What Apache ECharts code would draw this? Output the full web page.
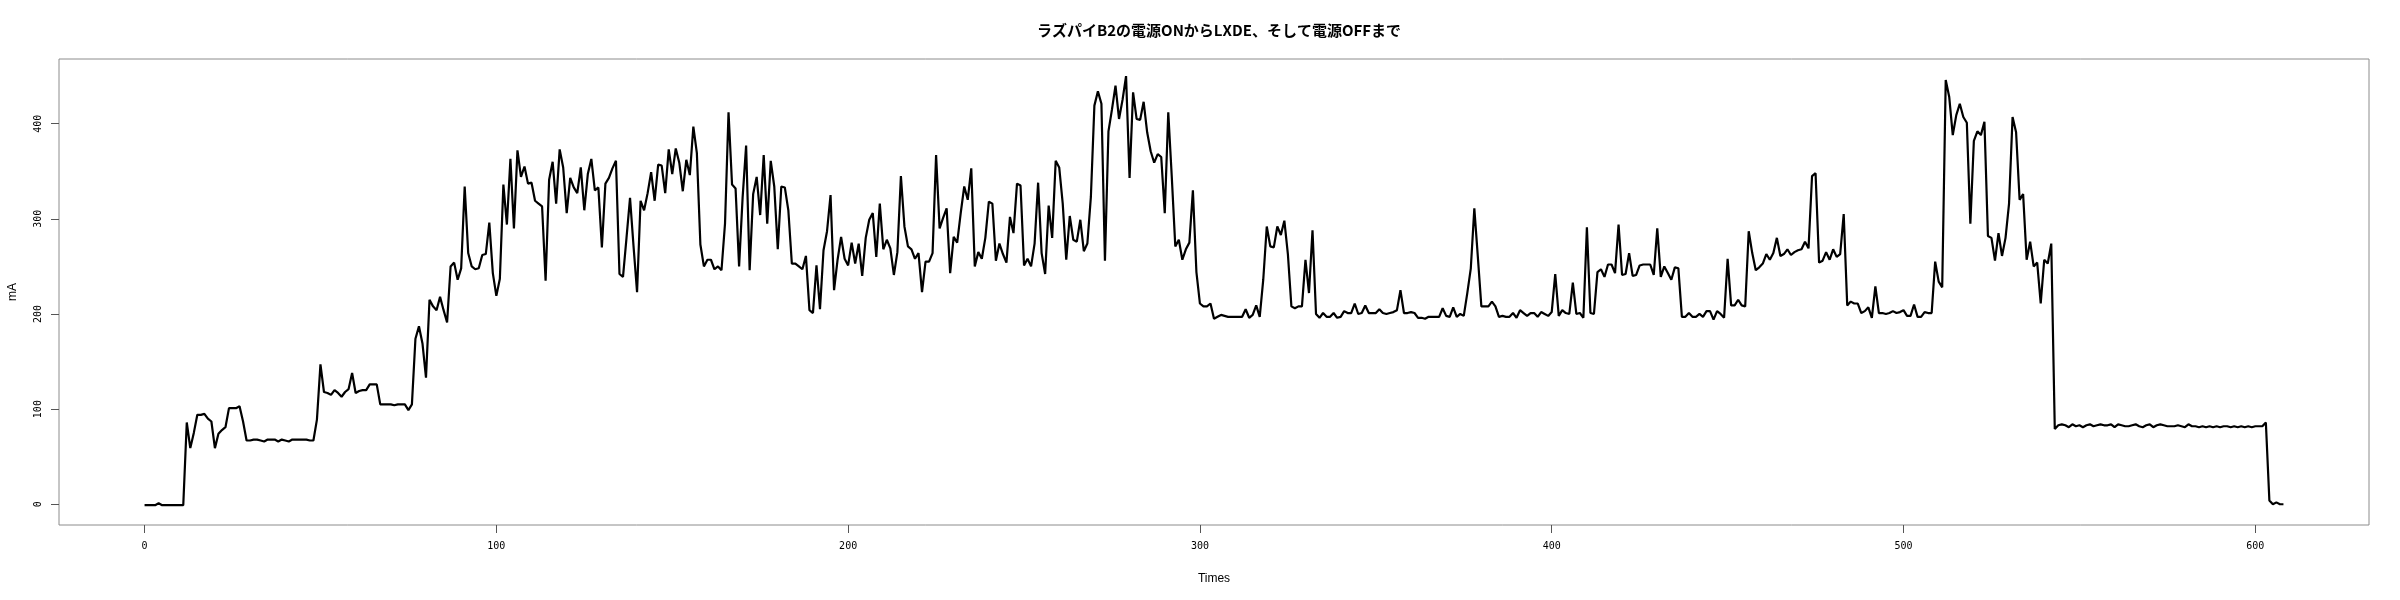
<!DOCTYPE html>
<html>
<head>
<meta charset="utf-8">
<script src="https://cdn.jsdelivr.net/npm/echarts@6/dist/echarts.min.js"></script>
<style>
html,body{margin:0;padding:0;background:#fff;}
#chart{width:2400px;height:600px;}
</style>
</head>
<body>
<div id="chart"></div>
<script>
// mA readings, sample index 0..608
const mA_000_052 = [-1,-1,-1,-1,1,-1,-1,-1,-1,-1,-1,-1,86,59,75,94,94,95,90,87,59,74,78,81,101,101,101,103,87,67,67,68,68,67,66,68,68,68,66,68,67,66,68,68,68,68,68,67,67,89,147,118,117];
const mA_053_109 = [115,120,117,113,118,121,138,117,119,120,120,126,126,126,105,105,105,105,104,105,105,105,99,105,174,187,169,133,215,208,204,218,204,191,250,254,236,248,334,264,250,247,248,262,263,296,243,219,237,336,294,363,290,372,344,355,337];
const mA_110_166 = [338,319,316,313,235,341,360,316,373,354,306,343,333,327,354,309,347,363,330,333,270,337,343,353,361,242,239,280,322,271,223,319,309,327,349,319,357,356,327,373,347,374,359,329,362,346,397,369,273,250,257,257,247,250,246,295,412];
const mA_167_223 = [336,332,250,322,377,246,326,344,304,367,295,361,334,268,334,333,309,253,253,250,247,261,204,201,251,205,267,287,325,225,257,281,258,251,275,253,274,240,280,299,306,260,316,268,278,269,241,265,345,292,271,268,258,264,223,255,255];
const mA_224_280 = [264,367,290,301,311,243,281,275,306,334,320,353,250,265,258,280,318,316,256,274,263,254,302,285,337,335,251,258,250,274,338,264,242,314,280,361,354,316,257,303,278,276,299,266,274,323,419,434,421,256,392,415,440,405,425,450,343];
const mA_281_336 = [433,405,404,423,391,371,359,368,365,306,412,344,271,278,257,268,275,330,244,211,208,208,211,195,197,199,198,197,197,197,197,197,205,196,199,209,197,236,292,271,270,292,283,298,263,208,206,208,208,257,222,288,200,196,201,197];
const mA_337_393 = [197,201,196,197,203,201,201,211,200,201,209,201,201,201,205,201,200,201,202,204,225,201,201,202,201,196,196,195,197,197,197,197,206,198,197,207,197,200,198,222,248,311,260,208,208,208,213,208,197,198,197,197,201,196,204,201,198];
const mA_394_450 = [201,201,197,202,200,198,202,242,198,204,201,200,233,200,201,196,291,201,200,244,247,239,252,252,243,294,241,242,264,240,241,251,252,252,252,241,290,239,250,243,236,249,248,197,197,201,197,197,200,197,203,203,194,203,200,196,258];
const mA_451_507 = [209,209,215,209,208,287,264,246,249,253,263,257,264,280,261,263,268,262,265,267,268,276,269,345,348,254,256,265,257,268,260,263,305,209,213,211,211,201,203,207,196,229,201,201,200,201,203,201,202,204,198,198,210,197,197,202,201];
const mA_508_564 = [201,255,234,228,446,428,388,409,421,407,401,295,382,392,388,402,282,280,256,285,261,280,316,407,391,320,326,257,276,250,254,211,257,253,274,79,83,84,83,81,84,82,83,81,83,84,82,83,84,83,83,84,81,84,83,82,82];
const mA_565_608 = [83,84,82,81,83,84,81,83,84,83,82,82,82,83,82,81,84,82,82,81,82,81,82,81,82,81,82,82,81,82,81,82,81,82,81,82,82,82,86,4,0,2,0,0];

const xTicks = [0,100,200,300,400,500,600];
const yTicks = [0,100,200,300,400];
const titleText = 'ラズパイB2の電源ONからLXDE、そして電源OFFまで';
const xName = 'Times';
const yName = 'mA';

const mA = [].concat(mA_000_052, mA_053_109, mA_110_166, mA_167_223, mA_224_280,
  mA_281_336, mA_337_393, mA_394_450, mA_451_507, mA_508_564, mA_565_608);
const points = mA.map((v, i) => [i, v]);

const n = mA.length - 1;
const xPad = n * 0.04;

const chart = echarts.init(document.getElementById('chart'), null, {renderer: 'canvas'});
const tickFont = 'DejaVu Sans Mono';
chart.setOption({
  animation: false,
  backgroundColor: '#fff',
  title: {
    text: titleText,
    left: 1214, textAlign: 'center',
    top: 18,
    textStyle: {fontFamily: 'Noto Sans CJK JP', fontSize: 15, fontWeight: 'bold', color: '#000'}
  },
  grid: {
    left: 59, top: 59, width: 2310, height: 466,
    containLabel: false, outerBoundsMode: 'none',
    show: true, borderColor: '#8c8c8c', borderWidth: 1, backgroundColor: 'transparent'
  },
  xAxis: {
    type: 'value',
    min: -xPad, max: n + xPad,
    name: xName, nameLocation: 'middle', nameGap: 48,
    nameTextStyle: {fontFamily: 'Liberation Sans', fontSize: 12, color: '#000'},
    axisLine: {show: false, onZero: false},
    splitLine: {show: false},
    axisTick: {show: true, customValues: xTicks, length: 8, inside: false, lineStyle: {color: '#555'}},
    axisLabel: {customValues: xTicks, fontFamily: tickFont, fontSize: 10, color: '#000', margin: 16}
  },
  yAxis: {
    type: 'value',
    min: -21.8, max: 468,
    name: yName, nameLocation: 'middle', nameGap: 40, nameRotate: 90,
    nameTextStyle: {fontFamily: 'Liberation Sans', fontSize: 12, color: '#000'},
    axisLine: {show: false, onZero: false},
    splitLine: {show: false},
    axisTick: {show: true, customValues: yTicks, length: 8, lineStyle: {color: '#555'}},
    axisLabel: {customValues: yTicks, rotate: 90, fontFamily: tickFont, fontSize: 10, color: '#000', margin: 16}
  },
  series: [{
    type: 'line',
    data: points,
    showSymbol: false,
    symbol: 'none',
    lineStyle: {color: '#000', width: 2.2},
    silent: true
  }]
});
</script>
</body>
</html>
